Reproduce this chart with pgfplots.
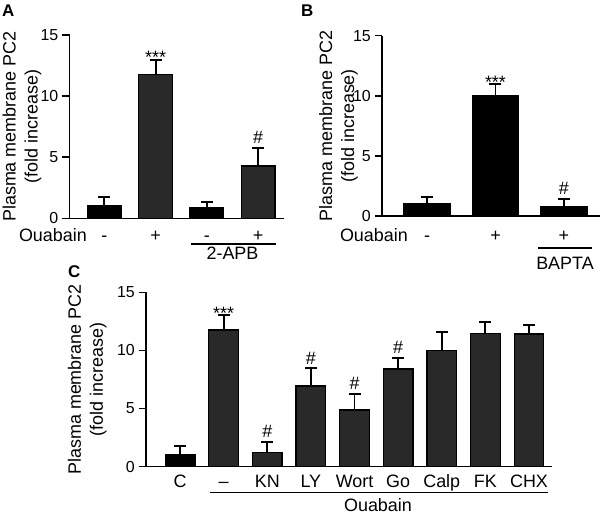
\documentclass[border=0pt]{standalone}
\usepackage{pgfplots}
\pgfplotsset{compat=1.18}
\usepackage{fontspec}
\setmainfont{Liberation Sans}
\definecolor{bardark}{gray}{0.16}
\newcommand{\txt}{\fontsize{18}{22}\selectfont}
\newcommand{\num}{\fontsize{16}{19}\selectfont}
\newcommand{\lett}{\fontsize{17}{20}\selectfont\bfseries}
\pgfplotsset{panel/.style={
  scale only axis, anchor=south west,
  axis lines=left, axis line style={-, line width=1.5bp},
  ymin=0, ymax=15, ytick={0,5,10,15},
  tick align=outside, major tick length=7bp,
  ytick style={line width=1.5bp, black},
  xtick style={draw=none},
  xtick={1,2,3,4,5,6,7,8,9},
  /pgf/number format/assume math mode=true,
  yticklabel style={font=\num, inner sep=0pt, xshift=-4bp},
  ybar, bar shift=0pt,
  clip=false,
  ylabel={Plasma membrane PC2\\(fold increase)},
  ylabel style={font=\txt, align=center, inner sep=0pt},
  every axis plot/.append style={draw=black, line width=1.3bp},
  error bars/y dir=plus, error bars/y explicit,
  error bars/error bar style={line width=1.8bp, black},
  error bars/error mark options={rotate=90, mark size=6bp, line width=1.8bp, black},
}}
\begin{document}
\begin{tikzpicture}
\useasboundingbox (0bp,0bp) rectangle (600bp,515bp);
% ---------------- Panel A ----------------
\begin{axis}[panel, at={(69.5bp,296.7bp)}, width=214.8bp, height=183.3bp,
  xmin=0.32, xmax=4.51, bar width=0.66,
  xticklabels={-,+,-,+},
  xticklabel style={font=\txt, anchor=base, inner sep=0pt, yshift=-16bp},
  ylabel style={at={(axis description cs:-0.221,0.5)}, anchor=center}]
\addplot[fill=black] coordinates {(1,1.03) +- (0,0.74) (3,0.87) +- (0,0.44)};
\addplot[fill=bardark] coordinates {(2,11.75) +- (0,1.22) (4,4.29) +- (0,1.47)};
\node[font=\txt, anchor=base, inner sep=0pt, yshift=-4bp] at (axis cs:2,12.97) {***};
\node[font=\txt, anchor=base, inner sep=0pt, yshift=4bp] at (axis cs:4,5.76) {\#};
\end{axis}
\node[font=\txt, anchor=base east, inner sep=0pt] at (87bp,273.5bp) {Ouabain};
\draw[line width=1.2bp] (190.5bp,271bp) -- (276bp,271bp);
\node[font=\txt, anchor=base, inner sep=0pt] at (232.5bp,255bp) {2-APB};
\node[font=\lett, anchor=base west, inner sep=0pt] at (2bp,498bp) {A};
% ---------------- Panel B ----------------
\begin{axis}[panel, at={(382bp,299bp)}, width=218bp, height=180.3bp,
  xmin=0.343, xmax=3.526, bar width=0.67,
  xticklabels={-,+,+},
  xticklabel style={font=\txt, anchor=base, inner sep=0pt, yshift=-19bp},
  ylabel style={at={(axis description cs:-0.1995,0.5)}, anchor=center}]
\addplot[fill=black] coordinates {(1,1.0) +- (0,0.6) (2,10.0) +- (0,0.97) (3,0.75) +- (0,0.68)};
\node[font=\txt, anchor=base, inner sep=0pt, yshift=-4bp] at (axis cs:2,10.97) {***};
\node[font=\txt, anchor=base, inner sep=0pt, yshift=4bp] at (axis cs:3,1.43) {\#};
\end{axis}
\node[font=\txt, anchor=base east, inner sep=0pt] at (408bp,273bp) {Ouabain};
\draw[line width=1.2bp] (538bp,267bp) -- (592bp,267bp);
\node[font=\txt, anchor=base, inner sep=0pt] at (565bp,245.5bp) {BAPTA};
\node[font=\lett, anchor=base west, inner sep=0pt] at (301bp,498bp) {B};
% ---------------- Panel C ----------------
\begin{axis}[panel, at={(146bp,48.3bp)}, width=405.7bp, height=174.4bp,
  xmin=0.22, xmax=9.52, bar width=0.68,
  xticklabels={C,–,KN,LY,Wort,Go,Calp,FK,CHX},
  xticklabel style={font=\txt, anchor=base, inner sep=0pt, yshift=-14bp},
  ylabel style={at={(axis description cs:-0.145,0.5)}, anchor=center}]
\addplot[fill=black] coordinates {(1,1.01) +- (0,0.80)};
\addplot[fill=bardark] coordinates {(2,11.75) +- (0,1.29) (3,1.24) +- (0,0.91) (4,6.94) +- (0,1.52) (5,4.88) +- (0,1.40) (6,8.40) +- (0,0.97) (7,9.97) +- (0,1.64) (8,11.47) +- (0,0.95) (9,11.41) +- (0,0.77)};
\node[font=\txt, anchor=base, inner sep=0pt, yshift=-4bp] at (axis cs:2,13.04) {***};
\node[font=\txt, anchor=base, inner sep=0pt, yshift=4bp] at (axis cs:3,2.15) {\#};
\node[font=\txt, anchor=base, inner sep=0pt, yshift=4bp] at (axis cs:4,8.46) {\#};
\node[font=\txt, anchor=base, inner sep=0pt, yshift=4bp] at (axis cs:5,6.28) {\#};
\node[font=\txt, anchor=base, inner sep=0pt, yshift=4bp] at (axis cs:6,9.37) {\#};
\end{axis}
\draw[line width=1.2bp] (210bp,22.3bp) -- (548.3bp,22.3bp);
\node[font=\txt, anchor=base, inner sep=0pt] at (378bp,3.5bp) {Ouabain};
\node[font=\lett, anchor=base west, inner sep=0pt] at (68bp,237bp) {C};
\end{tikzpicture}
\end{document}
